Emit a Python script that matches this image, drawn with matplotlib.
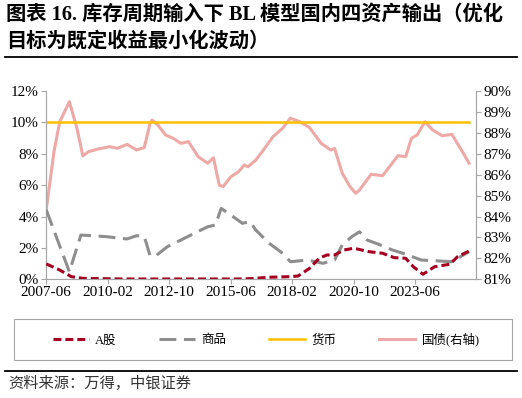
import matplotlib
matplotlib.use('Agg')
import matplotlib.pyplot as plt
from matplotlib.lines import Line2D
from matplotlib.patches import Rectangle

plt.rcParams['font.family'] = ['Liberation Serif', 'Noto Sans CJK SC']

title = '图表 16. 库存周期输入下 BL 模型国内四资产输出（优化\n目标为既定收益最小化波动）'
source = '资料来源：万得，中银证券'

start = '2007-06'
xtick_labels = ['2007-06', '2010-02', '2012-10', '2015-06', '2018-02', '2020-10', '2023-06']

# months since 2007-06
stock_m = [0, 7, 13, 19, 40, 70, 100, 106, 116, 127, 131, 137, 142, 146, 150, 155, 160,
           168, 175, 181, 187, 191, 196, 202, 210, 214, 220]
stock = [0.98, 0.59, 0.17, 0.06, 0.02, 0.02, 0.02, 0.04, 0.13, 0.17, 0.21, 0.70, 1.34, 1.55,
         1.55, 1.87, 1.98, 1.76, 1.66, 1.38, 1.34, 0.80, 0.32, 0.80, 0.96, 1.44, 1.80]

commod_m = [0, 12, 18, 31, 42, 47, 51, 54, 57, 63, 70, 77, 84, 88, 91, 96, 102, 106, 109,
            116, 123, 127, 136, 144, 150, 154, 159, 163, 167, 173, 180, 187, 195, 204, 211, 220]
commod = [4.42, 0.48, 2.82, 2.72, 2.57, 2.78, 2.72, 1.50, 1.50, 2.08, 2.50, 2.93, 3.35, 3.46,
          4.52, 4.10, 3.57, 3.67, 3.14, 2.29, 1.66, 1.12, 1.23, 1.02, 1.23, 2.19, 2.72, 3.03,
          2.50, 2.23, 1.87, 1.60, 1.23, 1.17, 1.12, 1.76]

cash_m = [0, 220]
cash = [10.0, 10.0]

bond_m = [0, 4, 7, 12, 16, 19, 22, 27, 33, 37, 42, 47, 51, 54, 55, 58, 62, 66, 70, 74, 79,
          84, 87, 90, 92, 96, 100, 103, 105, 109, 113, 118, 123, 127, 132, 137, 143, 148, 150,
          154, 158, 161, 163, 169, 175, 183, 187, 190, 193, 197, 201, 206, 211, 216, 220]
bond = [84.35, 87.10, 88.53, 89.49, 88.20, 86.90, 87.10, 87.23, 87.34, 87.26, 87.45, 87.18,
        87.30, 88.46, 88.61, 88.38, 87.90, 87.74, 87.50, 87.58, 86.86, 86.55, 86.81, 85.50,
        85.43, 85.90, 86.14, 86.46, 86.38, 86.70, 87.18, 87.82, 88.22, 88.70, 88.53, 88.25,
        87.50, 87.18, 87.26, 86.07, 85.43, 85.11, 85.27, 86.02, 85.95, 86.91, 86.86, 87.74,
        87.90, 88.53, 88.14, 87.86, 87.93, 87.18, 86.55]


def month_index(label):
    y, m = map(int, label.split('-'))
    y0, m0 = map(int, start.split('-'))
    return (y - y0) * 12 + (m - m0)


c_stock = '#A50021'
c_commod = '#8E8E8E'
c_cash = '#FFC000'
c_bond = '#EDA9A7'
c_axis = '#A6A6A6'

fig = plt.figure(figsize=(5.22, 3.98), dpi=100)
ax = fig.add_axes([46.3 / 522, 1 - 279.3 / 398, (476 - 46.3) / 522, (279.3 - 91) / 398])
ax2 = ax.twinx()

ax.plot(stock_m, stock, color=c_stock, lw=2.2, dashes=(2.6, 1.3), zorder=4)
ax.plot(commod_m, commod, color=c_commod, lw=2.2, dashes=(5.5, 2.5), zorder=3)
ax.plot(cash_m, cash, color=c_cash, lw=1.8, zorder=2)
ax2.plot(bond_m, bond, color=c_bond, lw=2.2, zorder=1)

ax.set_zorder(ax2.get_zorder() + 1)
ax.patch.set_visible(False)

ax.set_xlim(0, 223.6)
ax.set_ylim(0, 12)
ax2.set_ylim(81, 90)
ax.set_yticks(range(0, 13, 2))
ax.set_yticklabels([f'{v}%' for v in range(0, 13, 2)])
ax2.set_yticks(range(81, 91))
ax2.set_yticklabels([f'{v}%' for v in range(81, 91)])
ax.set_xticks([month_index(s) for s in xtick_labels])
ax.set_xticklabels(xtick_labels)

for a in (ax, ax2):
    a.spines['top'].set_visible(False)
    for side in ('left', 'right', 'bottom'):
        a.spines[side].set_color(c_axis)
        a.spines[side].set_linewidth(0.8)
    a.tick_params(labelsize=11, length=3.5, width=0.8, color=c_axis, labelcolor='black', pad=2)
ax.tick_params(axis='x', pad=1.5)

fig.text(0.012, 1 - 5 / 398, title, fontsize=14.6, fontweight='bold', va='top', ha='left',
         linespacing=1.4)
fig.add_artist(Line2D([5 / 522, 517 / 522], [1 - 57.3 / 398] * 2, color='black', lw=1.3))
fig.add_artist(Line2D([5 / 522, 517 / 522], [1 - 371 / 398] * 2, color='black', lw=1.3))
fig.text(8 / 522, 1 - 383 / 398, source, fontsize=11, style='italic', va='center', ha='left',
         color='#333333')

# legend box
fig.add_artist(Rectangle((14 / 522, 1 - 360 / 398), 498 / 522, 41 / 398, fill=False,
                         edgecolor=c_axis, lw=0.8, transform=fig.transFigure))
handles = [
    Line2D([], [], color=c_stock, lw=2.2, dashes=(2.6, 1.3)),
    Line2D([], [], color=c_commod, lw=2.2, dashes=(5.5, 2.5)),
    Line2D([], [], color=c_cash, lw=1.8),
    Line2D([], [], color=c_bond, lw=2.2),
]
labels = ['A股', '商品', '货币', '国债(右轴)']
fig.legend(handles, labels, loc='center', ncol=4,
           bbox_to_anchor=(266 / 522, 1 - 339.5 / 398),
           fontsize=9, handlelength=2.9, handletextpad=0.5, columnspacing=3.4,
           frameon=False, borderpad=0)

fig.savefig('out.png', dpi=100)
